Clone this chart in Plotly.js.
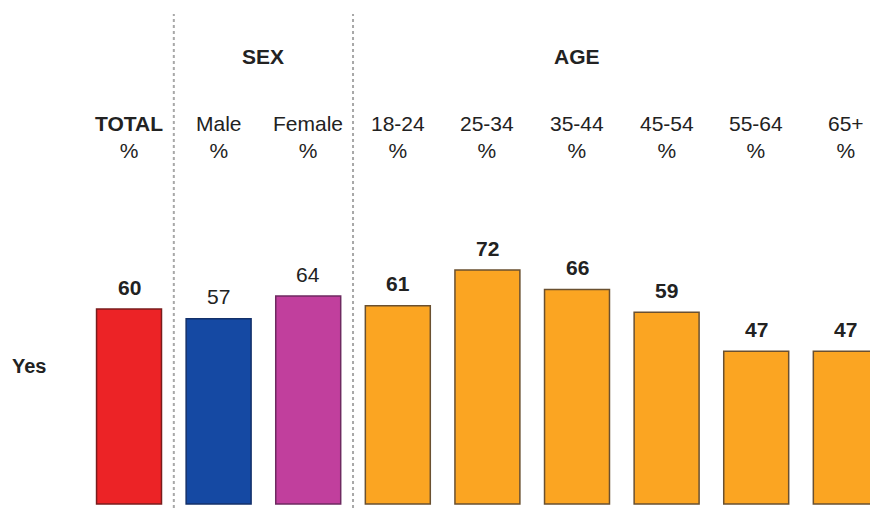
<!DOCTYPE html>
<html>
<head>
<meta charset="utf-8">
<script src="https://cdn.plot.ly/plotly-3.0.1.min.js"></script>
<style>
  html, body { margin: 0; padding: 0; background: #ffffff; }
  #chart { width: 870px; height: 508px; }
</style>
</head>
<body>
<div id="chart"></div>
<script>
// Share answering "Yes", by total, sex and age band
const categories = ['TOTAL', 'Male', 'Female', '18-24', '25-34', '35-44', '45-54', '55-64', '65+'];
const yesValues  = [60, 57, 64, 61, 72, 66, 59, 47, 47];
const tickLabels = ['TOTAL', 'Male', 'Female', '18-24', '25-34', '35-44', '45-54', '55-64', '65+'];
const groupNames = ['SEX', 'AGE'];
const rowLabel   = 'Yes';
const unitLabel  = '%';

// Styling
const fillColors = ['#ec2326', '#1549a3', '#c13f9d', '#fba522', '#fba522', '#fba522', '#fba522', '#fba522', '#fba522'];
const edgeColors = ['#7a1c1c', '#13306a', '#6e2a60', '#6a5030', '#6a5030', '#6a5030', '#6a5030', '#6a5030', '#6a5030'];
const boldValue  = [true, false, false, true, true, true, true, true, true];
const boldTick   = [true, false, false, false, false, false, false, false, false];
const groupAt    = [1.5, 5];   // category index where each group heading is centred
const dividers   = [0.5, 2.5]; // dotted separators between groups

const FONT = '"Liberation Sans", Arial, sans-serif';
const INK = '#222222';
const H = 508;
const py = px => 1 - px / H;   // pixel row -> paper y

const trace = {
  type: 'bar',
  x: categories,
  y: yesValues,
  marker: { color: fillColors, line: { color: edgeColors, width: 1.5 } },
  hoverinfo: 'skip',
  showlegend: false
};

const annotations = [];

// value labels above each bar
categories.forEach((c, i) => {
  const v = yesValues[i];
  annotations.push({
    x: c, y: v, xref: 'x', yref: 'y',
    text: boldValue[i] ? '<b>' + v + '</b>' : String(v),
    showarrow: false, yanchor: 'middle', yshift: 22,
    font: { family: FONT, size: 21, color: INK }
  });
});

// column headings
categories.forEach((c, i) => {
  const t = boldTick[i] ? '<b>' + tickLabels[i] + '</b>' : tickLabels[i];
  annotations.push({
    x: c, y: py(137), xref: 'x', yref: 'paper',
    text: t + '<br>' + unitLabel,
    showarrow: false, align: 'center', yanchor: 'middle',
    font: { family: FONT, size: 21, color: INK }
  });
});

// group headings
groupNames.forEach((g, i) => {
  annotations.push({
    x: groupAt[i], y: py(56), xref: 'x', yref: 'paper',
    text: '<b>' + g + '</b>',
    showarrow: false, yanchor: 'middle',
    font: { family: FONT, size: 21, color: INK }
  });
});

// row label
annotations.push({
  x: 29 / 870, y: py(366), xref: 'paper', yref: 'paper',
  text: '<b>' + rowLabel + '</b>',
  showarrow: false, xanchor: 'center', yanchor: 'middle',
  font: { family: FONT, size: 20, color: INK }
});

const shapes = dividers.map(d => ({
  type: 'line', xref: 'x', yref: 'paper',
  x0: d, x1: d, y0: 0, y1: py(14),
  line: { color: '#a8a8a8', width: 2, dash: 'dot' }
}));

const layout = {
  width: 870, height: 508,
  margin: { l: 0, r: 0, t: 0, b: 0 },
  paper_bgcolor: '#ffffff', plot_bgcolor: '#ffffff',
  bargap: 0.275,
  xaxis: {
    type: 'category', categoryorder: 'array', categoryarray: categories,
    range: [-1.44, 8.27],
    showticklabels: false, showgrid: false, zeroline: false, showline: false, ticks: ''
  },
  yaxis: {
    range: [-1.23, 155.1],
    showticklabels: false, showgrid: false, zeroline: false, showline: false, ticks: ''
  },
  annotations: annotations,
  shapes: shapes,
  font: { family: FONT, color: INK }
};

Plotly.newPlot('chart', [trace], layout, { displayModeBar: false, staticPlot: true });
</script>
</body>
</html>
